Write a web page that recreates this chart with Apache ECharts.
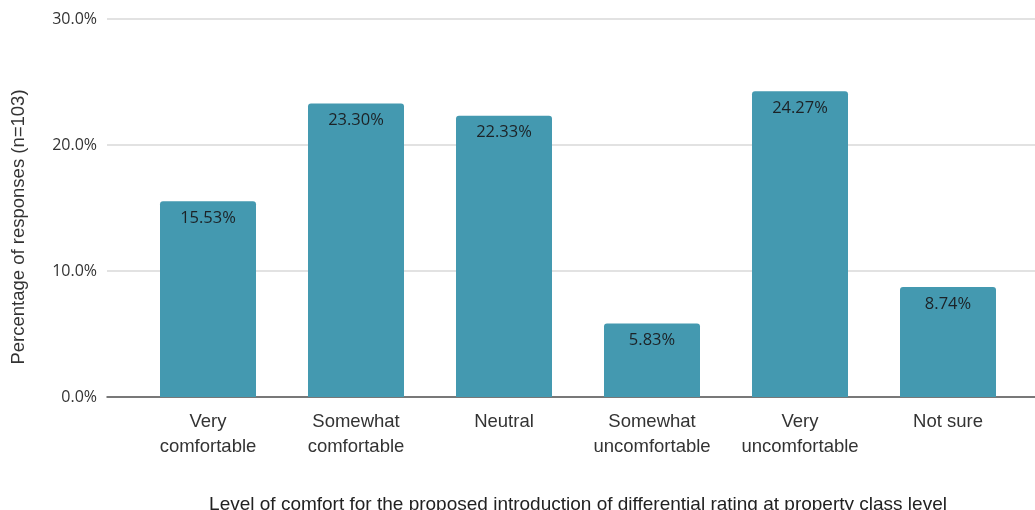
<!DOCTYPE html>
<html>
<head>
<meta charset="utf-8">
<script src="https://cdn.jsdelivr.net/npm/echarts@6/dist/echarts.min.js"></script>
<style>html,body{margin:0;padding:0;background:#fff}#c{width:1035px;height:510px}</style>
</head>
<body>
<div id="c"></div>
<script>
const categories = ['Very\ncomfortable', 'Somewhat\ncomfortable', 'Neutral', 'Somewhat\nuncomfortable', 'Very\nuncomfortable', 'Not sure'];
const values = [15.53, 23.30, 22.33, 5.83, 24.27, 8.74];
const yTicks = [0, 10, 20, 30];
const xTitle = 'Level of comfort for the proposed introduction of differential rating at property class level';
const yTitle = 'Percentage of responses (n=103)';

const chart = echarts.init(document.getElementById('c'), null, {renderer: 'canvas'});
chart.setOption({
  animation: false,
  backgroundColor: '#ffffff',
  grid: [
    {left: 107, right: 0, top: 19, bottom: 113, containLabel: false, outerBoundsMode: 'none'},
    {left: 134, right: 13, top: 19, bottom: 113, containLabel: false, outerBoundsMode: 'none'}
  ],
  xAxis: [
    {gridIndex: 0, type: 'value', min: 0, max: 1, show: true,
     axisLine: {show: true, onZero: false, lineStyle: {color: '#555', width: 1.5}},
     axisTick: {show: false}, axisLabel: {show: false}, splitLine: {show: false}},
    {gridIndex: 1, type: 'category', data: categories,
     axisLine: {show: false}, axisTick: {show: false},
     axisLabel: {margin: 12, color: '#333', fontFamily: 'Liberation Sans, Arial, sans-serif', fontSize: 18.5, lineHeight: 25, interval: 0},
     name: xTitle, nameLocation: 'middle', nameGap: 98,
     nameTextStyle: {color: '#222', fontFamily: 'Liberation Sans, Arial, sans-serif', fontSize: 19}}
  ],
  yAxis: [
    {gridIndex: 0, type: 'value', min: yTicks[0], max: yTicks[yTicks.length - 1], interval: 10,
     axisLine: {show: false}, axisTick: {show: false},
     axisLabel: {margin: 10, color: '#333', fontFamily: 'Open Sans, sans-serif', fontSize: 16,
       formatter: v => v.toFixed(1) + '%'},
     splitLine: {show: true, lineStyle: {color: '#d9d9d9', width: 1.5}},
     name: yTitle, nameLocation: 'middle', nameGap: 79, nameRotate: 90,
     nameTextStyle: {color: '#333', fontFamily: 'Liberation Sans, Arial, sans-serif', fontSize: 18.5, padding: [0, 38, 0, 0]}},
    {gridIndex: 1, type: 'value', min: yTicks[0], max: yTicks[yTicks.length - 1], interval: 10, show: false,
     splitLine: {show: false}}
  ],
  series: [{
    type: 'bar', xAxisIndex: 1, yAxisIndex: 1,
    data: values, barWidth: 96,
    itemStyle: {color: '#4499b0', borderRadius: [3, 3, 0, 0]},
    label: {show: true, position: 'insideTop', distance: 8.5, color: '#1c2226',
      fontFamily: 'Open Sans, sans-serif', fontSize: 16.5,
      formatter: p => p.value.toFixed(2) + '%'}
  }]
});
</script>
</body>
</html>
